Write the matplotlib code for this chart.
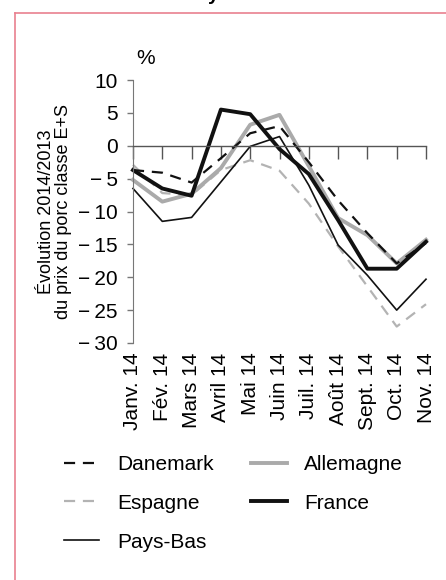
"""Monthly 2014/2013 change of the E+S pig price, by country."""

import matplotlib
matplotlib.use("Agg")
import matplotlib.pyplot as plt
from matplotlib.lines import Line2D

plt.rcParams["font.family"] = ["Liberation Sans", "DejaVu Sans"]

months = ["Janv. 14", "Fév. 14", "Mars 14", "Avril 14", "Mai 14", "Juin 14",
          "Juil. 14", "Août 14", "Sept. 14", "Oct. 14", "Nov. 14"]

danemark = [-3.7, -4.1, -5.6, -1.9, 1.9, 3.0, -2.5, -8.3, -13.3, -17.9, -14.8]
allemagne = [-5.2, -8.5, -7.3, -3.4, 3.2, 4.7, -3.1, -11.0, -13.6, -17.9, -14.3]
espagne = [-2.9, -7.2, -7.5, -3.7, -2.2, -3.8, -8.8, -15.3, -21.4, -27.5, -24.1]
france = [-3.7, -6.5, -7.6, 5.5, 4.8, -0.5, -4.3, -11.3, -18.7, -18.7, -14.6]
pays_bas = [-6.5, -11.5, -10.9, -5.5, -0.1, 1.4, -6.0, -15.1, -19.7, -25.0, -20.3]

y_ticks = [10, 5, 0, -5, -10, -15, -20, -25, -30]
y_labels = ["10", "5", "0", "−\u20095", "−\u200910", "−\u200915",
            "−\u200920", "−\u200925", "−\u200930"]

W, H = 446, 580
fig = plt.figure(figsize=(W / 100, H / 100), dpi=100, facecolor="white")

# pink frame of the page box (cut by the image edges)
pink = "#E9808F"
fig.add_artist(Line2D([15 / W, 1.0], [1 - 13 / H] * 2, color=pink, lw=1.2))
fig.add_artist(Line2D([15 / W] * 2, [1 - 13 / H, 0.0], color=pink, lw=1.2))
fig.text(213 / W, 1.0, "y", fontsize=14, fontweight="bold", ha="center", va="baseline")

ax = fig.add_axes([133 / W, 1 - 343 / H, (426 - 133) / W, (343 - 80) / H])
x = list(range(len(months)))

ax.plot(x, espagne, color="#B3B3B3", lw=1.6, dashes=(5, 3.5), clip_on=False, label="Espagne")
ax.plot(x, pays_bas, color="#111111", lw=1.2, clip_on=False, label="Pays-Bas")
ax.plot(x, allemagne, color="#AAAAAA", lw=2.8, clip_on=False, label="Allemagne")
ax.plot(x, danemark, color="#111111", lw=1.6, dashes=(5, 3.5), clip_on=False, label="Danemark")
ax.plot(x, france, color="#111111", lw=2.8, clip_on=False, label="France")

ax.set_xlim(0, len(months) - 1)
ax.set_ylim(-30, 10)

for side in ("top", "right"):
    ax.spines[side].set_visible(False)
ax.spines["left"].set_color("#777777")
ax.spines["bottom"].set_position(("data", 0))
ax.spines["bottom"].set_color("#555555")
ax.spines["bottom"].set_linewidth(1.0)

ax.set_xticks(x)
ax.tick_params(axis="x", length=9, width=1, color="#555555", labelbottom=False)
ax.set_yticks(y_ticks)
ax.set_yticklabels(y_labels)
ax.tick_params(axis="y", length=4, width=1, color="#777777", labelsize=15, pad=7)

sec = ax.secondary_xaxis(0.0)
sec.set_xticks(x)
sec.set_xticklabels(months, rotation=90, fontsize=15)
sec.tick_params(length=0, pad=7)
sec.spines["bottom"].set_visible(False)

ax.set_ylabel("Évolution 2014/2013\ndu prix du porc classe E+S",
              fontsize=13, linespacing=1.05, labelpad=4)
ax.text(0.01, 1.045, "%", transform=ax.transAxes, fontsize=15, ha="left", va="bottom")

handles, labels = ax.get_legend_handles_labels()
order = ["Danemark", "Espagne", "Pays-Bas", "Allemagne", "France"]
hmap = dict(zip(labels, handles))
fig.legend([hmap[k] for k in order], order, loc="upper left",
           bbox_to_anchor=(64 / W, 1 - 455 / H), ncol=2, frameon=False,
           fontsize=15, handlelength=1.7, handletextpad=0.85,
           columnspacing=1.8, labelspacing=0.95, borderpad=0, borderaxespad=0)

fig.savefig("out.png", dpi=100, facecolor="white")
